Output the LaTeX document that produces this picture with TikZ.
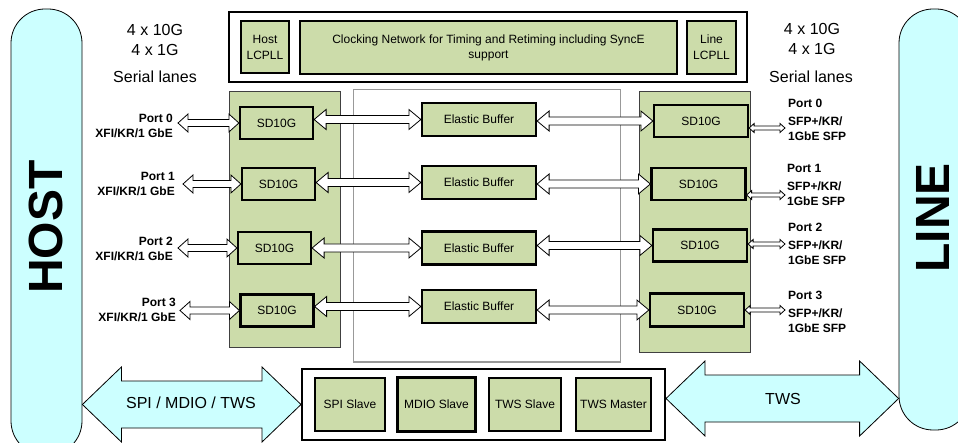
\documentclass[tikz,border=0pt]{standalone}
\usepackage{fontspec}
\setmainfont{Liberation Sans}
\usetikzlibrary{calc}

\definecolor{blockgreen}{RGB}{204,220,170}
\definecolor{busblue}{RGB}{204,255,255}

\tikzset{
  % hohler Doppelpfeil: #1 Spitzenlaenge, #2 halbe Spitzenbreite, #3 halbe Schaftbreite
  dblarr/.style n args={3}{draw, line width=0.8pt, fill=white,
    to path={let \p1=(\tikztostart), \p2=(\tikztotarget) in
      (\x1,\y2) -- (\x1+#1,\y2+#2) -- (\x1+#1,\y2+#3) -- (\x2-#1,\y2+#3)
      -- (\x2-#1,\y2+#2) -- (\x2,\y2) -- (\x2-#1,\y2-#2) -- (\x2-#1,\y2-#3)
      -- (\x1+#1,\y2-#3) -- (\x1+#1,\y2-#2) -- cycle}},
  portarr/.style={dblarr={10pt}{9pt}{3.5pt}},
  linkarr/.style={dblarr={12pt}{10pt}{4pt}},
  lanearr/.style={dblarr={5pt}{4.5pt}{2pt}},
  busarr/.style={dblarr={39pt}{37.5pt}{23.5pt}, fill=busblue},
  wh/.style 2 args={minimum width=#1pt, minimum height=#2pt},
  block/.style={draw, line width=2.2pt, fill=blockgreen, inner sep=0pt},
  panel/.style={draw=black!75, line width=0.8pt, fill=blockgreen},
  frame/.style={draw, line width=2pt, fill=white},
  side/.style={draw, line width=0.8pt, fill=busblue, rounded corners=34pt},
  portl/.style={anchor=east, align=right, inner sep=0pt, font=\fontsize{12}{15}\selectfont\bfseries},
  portr/.style={anchor=west, align=left, inner sep=0pt, font=\fontsize{12}{14.5}\selectfont\bfseries},
  big/.style={font=\fontsize{16}{20}\selectfont},
}

\begin{document}
\begin{tikzpicture}[x=1pt, y=-1pt, every node/.style={align=center, font=\fontsize{12}{15}\selectfont}]
    \useasboundingbox (0,0) rectangle (958,443);

    % Seitenbalken HOST / LINE
    \node[side, wh={71}{446}] (host) at (46.5,232) {};
    \node[side, wh={71}{421}] (line) at (934.5,219.5) {};
    \node[rotate=90, font=\fontsize{48}{48}\selectfont\bfseries] (hosttxt) at (46,227) {HOST};
    \node[rotate=90, font=\fontsize{48}{48}\selectfont\bfseries] (linetxt) at (933,218) {LINE};

    % Hintergrundflaechen
    \node[panel, wh={111}{256}] (hostpanel) at (284.5,219) {};
    \node[panel, wh={111}{261}] (linepanel) at (694.5,221.5) {};
    \node[draw=gray!80, line width=1pt, wh={267}{272}] (core) at (486.5,226) {};

    % Taktnetzwerk oben
    \node[frame, wh={518}{70}] (clkframe) at (488,47) {};
    \node[block, wh={48}{52}, font=\fontsize{12}{16}\selectfont] (hostpll) at (265,47) {Host\\LCPLL};
    \node[block, wh={377}{53}] (clknet) at (488.5,47.5) {Clocking Network for Timing and Retiming including SyncE\\support};
    \node[block, wh={49}{53}, font=\fontsize{12}{16}\selectfont] (linepll) at (711.5,47.5) {Line\\LCPLL};

    % Serial lanes
    \node[big] (hostrate) at (155,40) {4 x 10G\\4 x 1G};
    \node[big] (hostlanes) at (155,77) {Serial lanes};
    \node[big] (linerate) at (812,39) {4 x 10G\\4 x 1G};
    \node[big] (linelanes) at (811,77) {Serial lanes};

    % SD10G Host-Seite
    \node[block, wh={73}{32}] (hs0) at (276.5,123) {SD10G};
    \node[block, wh={73}{32}] (hs1) at (278.5,184) {SD10G};
    \node[block, wh={73}{32}] (hs2) at (274.5,248) {SD10G};
    \node[block, wh={73}{32}] (hs3) at (277,310.5) {SD10G};

    % Elastic Buffer
    \node[block, wh={114}{33}] (eb0) at (479,119.5) {Elastic Buffer};
    \node[block, wh={114}{33}] (eb1) at (479,182.5) {Elastic Buffer};
    \node[block, wh={114}{33}] (eb2) at (479,248) {Elastic Buffer};
    \node[block, wh={114}{33}] (eb3) at (479,306.5) {Elastic Buffer};

    % SD10G Line-Seite
    \node[block, wh={94}{32}] (ls0) at (701,121) {SD10G};
    \node[block, wh={94}{32}] (ls1) at (698.5,184) {SD10G};
    \node[block, wh={94}{32}] (ls2) at (700,245.5) {SD10G};
    \node[block, wh={94}{33}] (ls3) at (697,310) {SD10G};

    % Steuerung unten
    \node[frame, wh={363}{71}] (ctrl) at (483.5,404.5) {};
    \node[block, wh={70}{53}] (spi) at (350,404.5) {SPI Slave};
    \node[block, wh={78}{54}] (mdio) at (436.5,404.5) {MDIO Slave};
    \node[block, wh={72}{53}] (twss) at (525,404.5) {TWS Slave};
    \node[block, wh={75}{53}] (twsm) at (613.5,404.5) {TWS Master};

    % Port-Beschriftungen
    \node[portl] (pl0) at (173,125.5) {Port 0\\XFI/KR/1 GbE};
    \node[portl] (pl1) at (175,183.5) {Port 1\\XFI/KR/1 GbE};
    \node[portl] (pl2) at (173,249) {Port 2\\XFI/KR/1 GbE};
    \node[portl] (pl3) at (176,309.5) {Port 3\\XFI/KR/1 GbE};
    \node[portr] (pr0) at (788,120) {Port 0\\[3.5pt]SFP+/KR/\\1GbE SFP};
    \node[portr] (pr1) at (787,185) {Port 1\\[3.5pt]SFP+/KR/\\1GbE SFP};
    \node[portr] (pr2) at (788,244) {Port 2\\[3.5pt]SFP+/KR/\\1GbE SFP};
    \node[portr] (pr3) at (788,312) {Port 3\\[3.5pt]SFP+/KR/\\1GbE SFP};

    % freie Pfeilenden
    \coordinate (hp0) at (178,123);
    \coordinate (hp1) at (183,184);
    \coordinate (hp2) at (178,248);
    \coordinate (hp3) at (180,310);
    \coordinate (lp0) at (785,128);
    \coordinate (lp1) at (785,195);
    \coordinate (lp2) at (785,244);
    \coordinate (lp3) at (785,310);
    \coordinate (linebus) at (783,398.5);

    % Pfeile Host -> SD10G -> Buffer -> SD10G -> Line
    \draw[portarr] (hp0) to (hs0.west);
    \draw[portarr] (hp1) to (hs1.west);
    \draw[portarr] (hp2) to (hs2.west);
    \draw[portarr] (hp3) to (hs3.west);
    \draw[linkarr] (hs0.east) to (eb0.west);
    \draw[linkarr] (hs1.east) to (eb1.west);
    \draw[linkarr] (hs2.east) to (eb2.west);
    \draw[linkarr] (hs3.east) to (eb3.west);
    \draw[linkarr] (eb0.east) to (ls0.west);
    \draw[linkarr] (eb1.east) to (ls1.west);
    \draw[linkarr] (eb2.east) to (ls2.west);
    \draw[linkarr] (eb3.east) to (ls3.west);
    \draw[lanearr] (ls0.east) to (lp0);
    \draw[lanearr] (ls1.east) to (lp1);
    \draw[lanearr] (ls2.east) to (lp2);
    \draw[lanearr] (ls3.east) to (lp3);

    % Busse
    \draw[busarr] (host.east) to (ctrl.west);
    \draw[busarr] (ctrl.east) to (line.west |- linebus);
    \node[big] (hostbus) at (191,403) {SPI / MDIO / TWS};
    \node[big] (linebustxt) at (linebus) {TWS};

\end{tikzpicture}
\end{document}
